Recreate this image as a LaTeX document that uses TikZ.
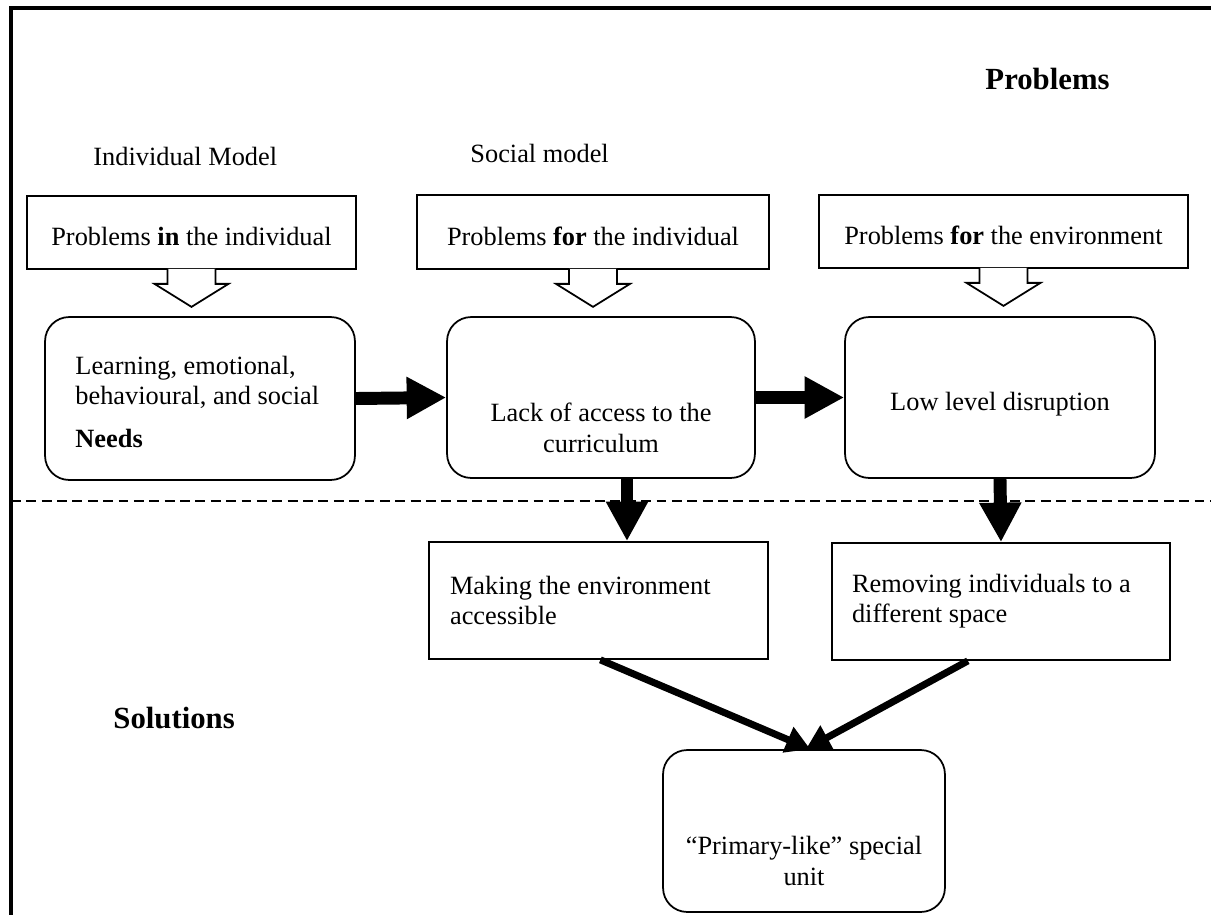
\documentclass[tikz,border=0pt]{standalone}
\usepackage{fontspec}
\setmainfont{Liberation Serif}
\usetikzlibrary{%
		arrows.meta%
	}

\begin{document}
\begin{tikzpicture}[x=0.016cm, y=-0.016cm,
		txt/.style={font=\fontsize{12}{13.7}\selectfont, inner sep=0},
		head/.style={font=\fontsize{14}{16}\selectfont\bfseries, inner sep=0},
		callbox/.style={draw, line width=0.8pt, font=\fontsize{12}{13.7}\selectfont, text height=12pt, text depth=0pt, inner sep=0},
		roundbox/.style={draw, line width=0.8pt, rounded corners=11pt},
		sqbox/.style={draw, line width=0.8pt, font=\fontsize{12}{13.7}\selectfont, align=flush left, inner sep=0},
		pointer/.style={draw, fill=white, line width=0.8pt},
		bigarrow/.style={line width=5.9pt, -{Triangle[length=18pt, width=18pt]}},
		slantarrow/.style={line width=3.2pt, -{Triangle[length=11pt, width=12pt]}}
	]
	\useasboundingbox (0,0) rectangle (1211,915);
	\draw[line width=1.7pt] (1211,8) -- (11,8) -- (11,915);
	
	% Headings
	\node[head, anchor=base east] (problems) at (1110,89) {Problems};
	\node[head, anchor=base west] (solutions) at (113,728) {Solutions};
	\node[txt, anchor=base west] (indiv) at (93,165) {Individual Model};
	\node[txt, anchor=base west] (social) at (470,162) {Social model};
	
	% Callouts
	\node[callbox, minimum width=5.264cm, minimum height=1.168cm] (call1) at (191.5,232.5) {Problems \textbf{in} the individual};
	\node[callbox, minimum width=5.632cm, minimum height=1.184cm] (call2) at (593,232) {Problems \textbf{for} the individual};
	\node[callbox, minimum width=5.904cm, minimum height=1.168cm] (call3) at (1003.5,231.5) {Problems \textbf{for} the environment};
	\foreach \c in {call1,call2,call3}
		\filldraw[pointer] (\c.south) ++(-24,-1) -- ++(0,15) -- ++(-13,0) -- ++(37,23) -- ++(37,-23) -- ++(-13,0) -- ++(0,-15);
	
	% Problems row
	\node[roundbox, minimum width=4.96cm, minimum height=2.608cm] (needs) at (200,398.5) {};
	\node[txt, anchor=base west, align=left] (needstxt) at (75,447) {Learning, emotional,\\behavioural, and social\\[5.5pt]\textbf{Needs}};
	
	\node[roundbox, minimum width=4.928cm, minimum height=2.576cm] (lack) at (601,397.5) {};
	\node[txt, anchor=base, align=center] (lacktxt) at (601,452) {Lack of access to the\\curriculum};
	
	\node[roundbox, minimum width=4.96cm, minimum height=2.576cm] (disrupt) at (1000,397.5) {};
	\node[txt, anchor=base] (disrupttxt) at (1000,410) {Low level disruption};
	
	\draw[bigarrow] (needs.east) -- (lack.west);
	\draw[bigarrow] (lack.east) -- (disrupt.west);
	
	% Divider
	\draw[line width=0.7pt, dash pattern=on 4.5pt off 2.5pt] (11,501) -- (1211,501);
	
	% Solutions
	\node[sqbox, minimum width=5.424cm, minimum height=1.872cm, text width=4.752cm] (making) at (598.5,600.5) {Making the environment accessible};
	\node[sqbox, minimum width=5.408cm, minimum height=1.872cm, text width=4.768cm] (removing) at (1001,601.5) {Removing individuals to a different space};
	
	\draw[bigarrow] ([xshift=0.416cm]lack.south) -- ([xshift=0.416cm]lack.south |- making.north);
	\draw[bigarrow] (disrupt.south) -- (removing.north);
	
	\node[roundbox, minimum width=4.512cm, minimum height=2.592cm] (primary) at (804,831) {};
	\node[txt, anchor=base, align=center] (primarytxt) at (804,885) {“Primary-like” special\\unit};
	
	\draw[slantarrow] ([xshift=0.03cm]making.south) -- ([xshift=0.1cm]primary.north);
	\draw[slantarrow] ([xshift=-0.53cm]removing.south) -- ([xshift=0.03cm]primary.north);
\end{tikzpicture}
\end{document}
